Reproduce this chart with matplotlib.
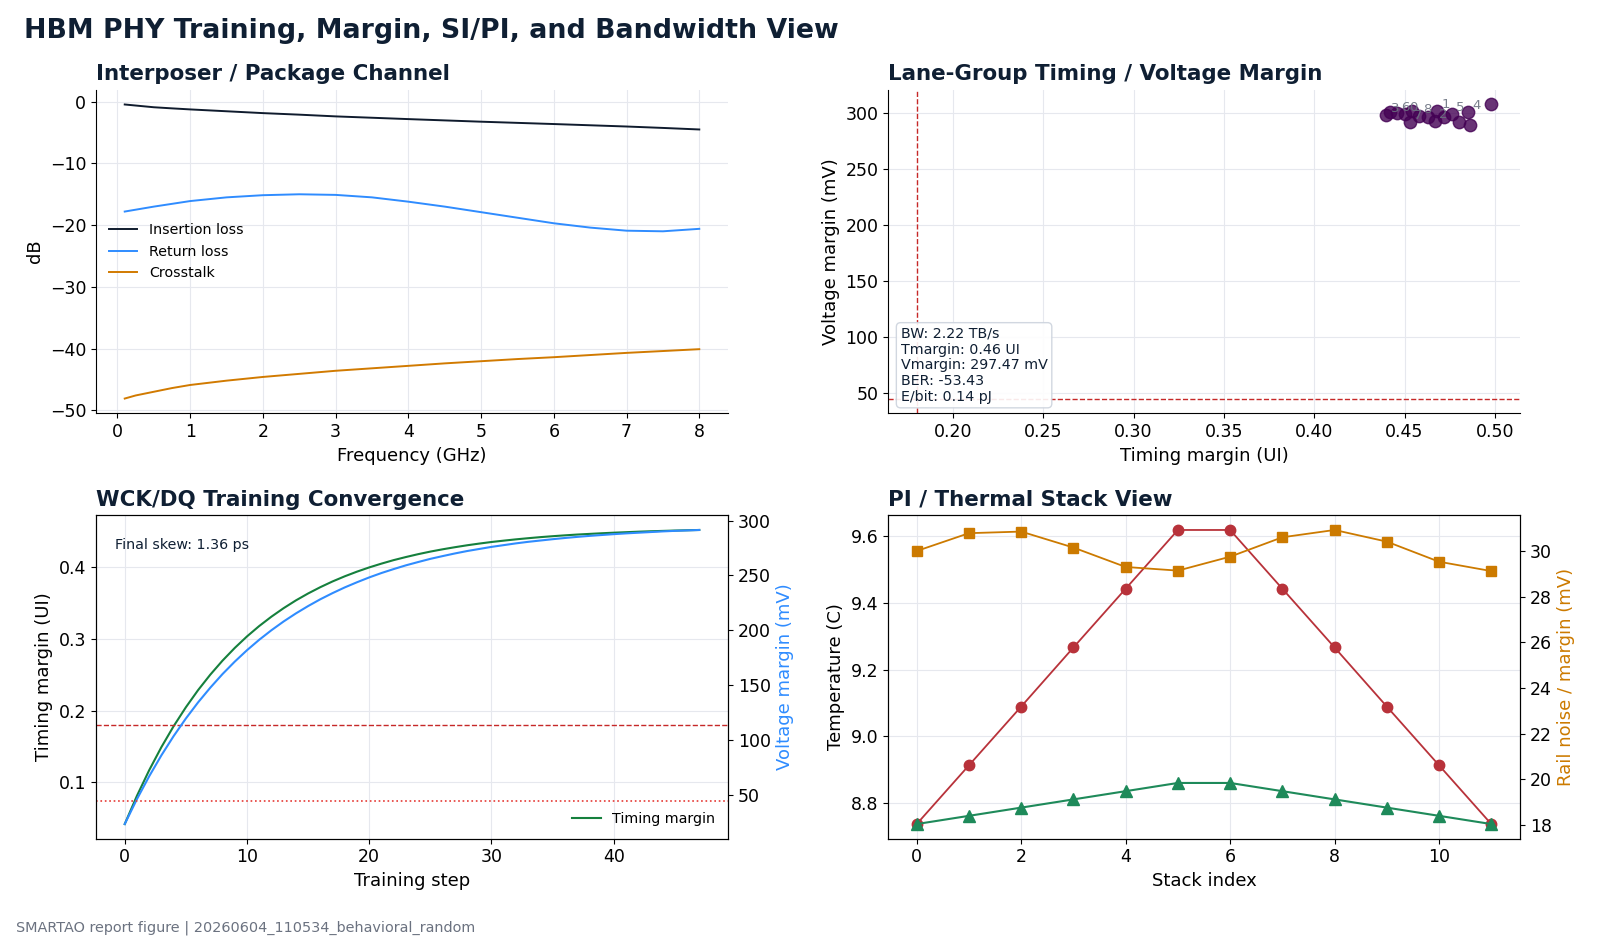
import matplotlib
matplotlib.use("Agg")
import matplotlib.pyplot as plt

# ---- data ----
freq_ghz = [0.1, 0.25, 0.5, 0.75, 1.0, 1.5, 2.0, 2.5, 3.0, 3.5, 4.0, 4.5, 5.0, 5.5, 6.0, 6.5, 7.0, 7.5, 8.0]
insertion_loss = [-0.45, -0.62, -0.9, -1.08, -1.25, -1.55, -1.85, -2.1, -2.38, -2.6, -2.82, -3.03, -3.24, -3.43, -3.62, -3.82, -4.02, -4.25, -4.5]
return_loss = [-17.8, -17.5, -17.0, -16.55, -16.1, -15.5, -15.15, -15.0, -15.1, -15.5, -16.2, -17.0, -17.9, -18.8, -19.7, -20.4, -20.9, -21.0, -20.6]
crosstalk = [-48.1, -47.6, -47.0, -46.4, -45.9, -45.2, -44.6, -44.1, -43.6, -43.2, -42.8, -42.4, -42.05, -41.7, -41.4, -41.05, -40.7, -40.4, -40.1]

lane_tmargin = [0.440, 0.442, 0.446, 0.450, 0.454, 0.453, 0.458, 0.463, 0.467, 0.468, 0.472, 0.476, 0.480, 0.485, 0.486, 0.498]
lane_vmargin = [298.8, 301.5, 300.0, 299.5, 301.8, 292.5, 298.0, 296.4, 293.4, 302.0, 297.0, 299.4, 292.0, 301.5, 289.5, 308.0]
lane_labels = ["3", "", "6", "0", "", "7", "8", "", "2", "1", "", "5", "", "4", "", ""]
tmargin_min = 0.18
vmargin_min = 45

train_step = list(range(48))
train_timing = [0.0414, 0.0809, 0.1166, 0.1489, 0.1781, 0.2045, 0.2285, 0.2501, 0.2697, 0.2874,
                0.3035, 0.3180, 0.3311, 0.3430, 0.3538, 0.3635, 0.3723, 0.3803, 0.3875, 0.3940,
                0.3999, 0.4052, 0.4101, 0.4144, 0.4184, 0.4220, 0.4252, 0.4281, 0.4308, 0.4332,
                0.4354, 0.4373, 0.4391, 0.4407, 0.4422, 0.4435, 0.4447, 0.4458, 0.4467, 0.4476,
                0.4484, 0.4491, 0.4498, 0.4504, 0.4509, 0.4514, 0.4518, 0.4522]
train_voltage = [23.6, 46.3, 67.1, 86.2, 103.7, 119.7, 134.4, 147.8, 160.2, 171.5,
                 181.9, 191.4, 200.1, 208.1, 215.4, 222.1, 228.3, 233.9, 239.1, 243.8,
                 248.2, 252.2, 255.8, 259.2, 262.2, 265.1, 267.6, 270.0, 272.2, 274.1,
                 276.0, 277.6, 279.2, 280.6, 281.8, 283.0, 284.1, 285.1, 286.0, 286.8,
                 287.6, 288.3, 288.9, 289.5, 290.1, 290.6, 291.0, 291.4]

stack_index = list(range(12))
stack_temp = [8.737, 8.913, 9.089, 9.266, 9.442, 9.618, 9.618, 9.442, 9.266, 9.089, 8.913, 8.737]
rail_noise = [18.04, 18.4, 18.76, 19.12, 19.48, 19.84, 19.84, 19.48, 19.12, 18.76, 18.4, 18.04]
rail_margin = [30.0, 30.78, 30.85, 30.15, 29.30, 29.14, 29.75, 30.60, 30.92, 30.41, 29.53, 29.12]

NAVY = "#0f1f33"
GRID = "#e6e8ee"
RED = "#c62828"

plt.rcParams["font.family"] = ["DejaVu Sans"]
plt.rcParams["xtick.labelsize"] = 12.5
plt.rcParams["ytick.labelsize"] = 12.5
plt.rcParams["axes.labelsize"] = 13

fig = plt.figure(figsize=(16, 9.42), dpi=100)
fig.text(0.015, 0.967, "HBM PHY Training, Margin, SI/PI, and Bandwidth View",
         fontsize=19.3, fontweight="bold", color=NAVY, va="center", ha="left")

W, H = 0.395, 0.3434
ax1 = fig.add_axes([0.06, 0.5613, W, H])
ax2 = fig.add_axes([0.555, 0.5613, W, H])
ax3 = fig.add_axes([0.06, 0.1096, W, H])
ax4 = fig.add_axes([0.555, 0.1096, W, H])

for ax in (ax1, ax2, ax3, ax4):
    ax.grid(True, color=GRID, linewidth=0.8)
    ax.set_axisbelow(True)

def title(ax, s):
    ax.set_title(s, loc="left", fontsize=15.4, fontweight="bold", color=NAVY, pad=7)

# 1. channel
ax1.plot(freq_ghz, insertion_loss, color="#0f1b2d", lw=1.4, label="Insertion loss")
ax1.plot(freq_ghz, return_loss, color="#2f8cff", lw=1.4, label="Return loss")
ax1.plot(freq_ghz, crosstalk, color="#d17a00", lw=1.4, label="Crosstalk")
ax1.set_xlabel("Frequency (GHz)")
ax1.set_ylabel("dB")
ax1.legend(loc="center left", frameon=False, fontsize=10.3)
ax1.spines["top"].set_visible(False)
ax1.spines["right"].set_visible(False)
title(ax1, "Interposer / Package Channel")

# 2. lane margins
ax2.scatter(lane_tmargin, lane_vmargin, s=80, color="#440154", alpha=0.8, zorder=3)
for t, v, lab in zip(lane_tmargin, lane_vmargin, lane_labels):
    if lab:
        ax2.annotate(lab, (t, v), xytext=(3, 2), textcoords="offset points",
                     fontsize=9.5, color="#6b7280", alpha=0.9, zorder=4)
ax2.axvline(tmargin_min, color=RED, ls="--", lw=1)
ax2.axhline(vmargin_min, color=RED, ls="--", lw=1)
ax2.set_xlabel("Timing margin (UI)")
ax2.set_ylabel("Voltage margin (mV)")
ax2.spines["top"].set_visible(False)
ax2.spines["right"].set_visible(False)
ax2.text(0.02, 0.03, "BW: 2.22 TB/s\nTmargin: 0.46 UI\nVmargin: 297.47 mV\nBER: -53.43\nE/bit: 0.14 pJ",
         transform=ax2.transAxes, fontsize=10.3, color=NAVY, va="bottom", ha="left", linespacing=1.15,
         bbox=dict(boxstyle="round,pad=0.3", fc="white", ec="#ccd3dd", alpha=0.9))
title(ax2, "Lane-Group Timing / Voltage Margin")

# 3. training convergence
ax3.plot(train_step, train_timing, color="#15803d", lw=1.5, label="Timing margin")
ax3.axhline(tmargin_min, color=RED, ls="--", lw=1)
ax3b = ax3.twinx()
ax3b.plot(train_step, train_voltage, color="#2f8cff", lw=1.5)
ax3b.axhline(vmargin_min, color="#e53935", ls=":", lw=1.2)
ax3.set_xlabel("Training step")
ax3.set_ylabel("Timing margin (UI)")
ax3b.set_ylabel("Voltage margin (mV)", color="#2f8cff")
ax3.legend(loc="lower right", frameon=False, fontsize=10.3)
ax3.text(0.03, 0.93, "Final skew: 1.36 ps", transform=ax3.transAxes, fontsize=10.3,
         color=NAVY, va="top", ha="left")
title(ax3, "WCK/DQ Training Convergence")

# 4. PI / thermal
ax4.plot(stack_index, stack_temp, color="#b8323a", lw=1.3, marker="o", ms=7.5)
ax4b = ax4.twinx()
ax4b.plot(stack_index, rail_noise, color="#1e8a5a", lw=1.5, marker="^", ms=8)
ax4b.plot(stack_index, rail_margin, color="#cc7a00", lw=1.3, marker="s", ms=7.5)
ax4.set_xlabel("Stack index")
ax4.set_ylabel("Temperature (C)")
ax4b.set_ylabel("Rail noise / margin (mV)", color="#cc7a00")
title(ax4, "PI / Thermal Stack View")

fig.text(0.0102, 0.0153, "SMARTAO report figure | 20260604_110534_behavioral_random",
         fontsize=10.4, color="#6b7280", ha="left", va="center")

fig.savefig("out.png", dpi=100)
